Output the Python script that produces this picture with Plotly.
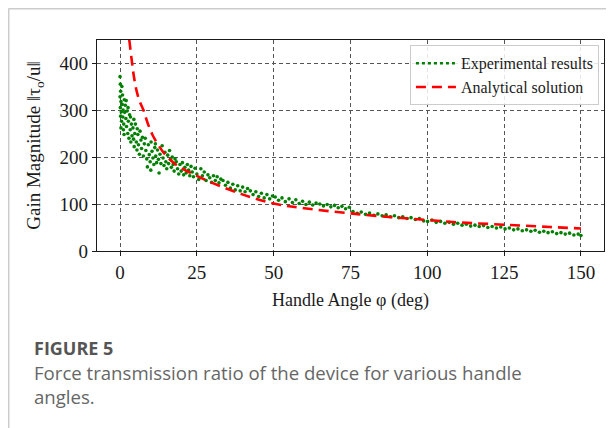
import plotly.graph_objects as go

# ---- Data ----
exp_x = [0.0, 0.1, 0.2, 0.0, 0.3, 0.1, 0.4, 0.2, 0.5, 0.3, 0.6, 0.8, 0.7, 1.0, 0.9, 1.2, 1.1, 1.4, 1.5, 1.3,
         1.7, 1.9, 2.1, 2.3, 2.5, 2.7, 2.9, 3.1, 3.3, 3.5, 3.7, 3.9, 2.0, 2.6, 3.4,
         4.2, 4.4, 4.6, 4.8, 5.0, 5.3, 5.5, 5.8, 6.0, 6.3, 6.5, 6.8, 7.0, 7.3, 7.6, 7.9, 4.5, 5.6,
         8.2, 8.4, 8.7, 8.9, 9.2, 9.5, 9.8, 10.1, 10.4, 10.7, 11.0, 11.3, 11.6, 11.9, 12.2, 12.5, 12.7, 13.0, 13.3, 10.0, 11.5,
         13.7, 14.0, 14.3, 14.6, 14.9, 15.2, 15.5, 15.8, 16.1, 16.4, 16.7, 17.0, 17.3, 17.6, 17.9,
         18.3, 18.7, 19.1, 19.5, 19.9, 20.3, 20.7, 21.1, 21.5, 21.9, 22.3, 22.7, 23.1, 23.5, 23.9,
         24.4, 25.0, 25.6, 26.3, 26.8, 27.4, 28.0, 28.6, 29.2, 29.8, 30.4, 31.0, 31.6, 32.2, 32.8,
         33.5, 34.3, 35.1, 35.9, 36.7, 37.5, 38.3, 39.1, 39.9, 40.7, 41.5,
         42.4, 43.3, 44.2, 45.1, 46.0, 46.9, 47.8, 48.7, 49.6,
         50.5, 51.6, 52.7, 53.8, 55.0, 56.1, 57.2, 58.3, 59.4, 60.5, 61.6, 62.7, 63.8,
         65.0, 66.2, 67.4, 68.6, 69.8, 71.0, 72.2, 73.4, 74.6,
         75.8, 77.2, 78.5, 79.9, 81.2, 82.6, 83.9, 85.3, 86.6, 88.0, 89.3, 90.7, 92.0, 93.4, 94.7, 96.1, 97.4, 98.8, 100.1,
         101.5, 102.9, 104.3, 105.7, 107.1, 108.5, 109.9, 111.3, 112.7, 114.1, 115.5, 116.9, 118.3, 119.7, 121.1, 122.5, 123.9,
         125.3, 126.7, 128.1, 129.5, 130.9, 132.3, 133.7, 135.1, 136.5, 137.9, 139.3, 140.7, 142.1, 143.5, 144.9, 146.3, 147.7, 149.1, 150.0]
exp_y = [371, 355, 340, 328, 318, 305, 296, 287, 276, 262, 350, 332, 312, 300, 285, 270, 258, 322, 295, 248,
         310, 282, 265, 298, 250, 276, 240, 290, 258, 232, 270, 245, 320, 305, 285,
         262, 238, 222, 250, 270, 232, 215, 248, 226, 206, 255, 236, 218, 242, 202, 228, 280, 260,
         240, 214, 196, 179, 226, 205, 190, 232, 212, 198, 184, 220, 202, 188, 215, 195, 166, 206, 186, 172, 228,
         224, 198, 182, 210, 190, 175, 204, 186, 214, 195, 178, 200, 184, 170, 196,
         190, 175, 164, 184, 170, 188, 162, 178, 166, 184, 172, 160, 180, 168, 158,
         176, 164, 152, 175, 160, 168, 150, 162, 156, 146, 160, 150, 158, 145, 153,
         150, 140, 146, 134, 142, 130, 139, 128, 136, 126, 133,
         128, 120, 126, 116, 123, 113, 120, 111, 117,
         115, 108, 113, 105, 111, 103, 109, 101, 106, 99, 104, 98, 102,
         100, 96, 99, 94, 97, 92, 95, 90, 93,
         84, 80, 83, 78, 81, 76, 79, 75, 77, 73, 75, 71, 73, 69, 71, 67, 69, 64, 63,
         66, 61, 63, 59, 61, 57, 59, 55, 57, 53, 55, 52, 54, 50, 52, 49, 51,
         47, 49, 45, 47, 43, 45, 42, 44, 40, 42, 39, 41, 37, 39, 36, 38, 34, 36, 33]

ana_x = [3.0, 3.8, 4.5, 5.3, 6.3, 7.6, 9.0, 10.5, 12.5, 15.0, 19.0, 25.0, 30.0, 40.0, 50.0,
         60.0, 75.0, 90.0, 100.0, 110.0, 125.0, 140.0, 150.0]
ana_y = [450, 406, 372, 343, 320, 300, 272, 248, 225, 203, 180, 160, 145, 120, 101,
         91, 80, 71, 66, 61, 56, 51, 48]

x_ticks = [0, 25, 50, 75, 100, 125, 150]
y_ticks = [0, 100, 200, 300, 400]

SERIF = "Liberation Serif"
INK = "#1a1a1a"

fig = go.Figure()
fig.add_trace(go.Scatter(x=exp_x, y=exp_y, mode="markers",
                         marker=dict(color="#008000", size=3.6, line=dict(width=0)),
                         showlegend=False, hoverinfo="skip"))
fig.add_trace(go.Scatter(x=ana_x, y=ana_y, mode="lines", line_shape="spline",
                         line=dict(color="#ff0000", width=2.6, dash="10px,6px"),
                         showlegend=False))
# legend samples
fig.add_trace(go.Scatter(x=[None], y=[None], mode="lines", name="Experimental results",
                         line=dict(color="#008000", width=2.6, dash="dot")))
fig.add_trace(go.Scatter(x=[None], y=[None], mode="lines", name="Analytical solution",
                         line=dict(color="#ff0000", width=2.6, dash="10px,6px")))

axis_common = dict(showline=True, linecolor=INK, linewidth=1.2, mirror=True,
                   ticks="outside", ticklen=4, tickcolor=INK, automargin=False,
                   showgrid=True, gridcolor="#555", griddash="4px,3px", gridwidth=1,
                   zeroline=False, tickfont=dict(family=SERIF, size=19, color=INK))

fig.update_xaxes(range=[-7.5, 157.5], tickvals=x_ticks,
                 title=dict(text="Handle Angle φ (deg)", font=dict(family=SERIF, size=18, color=INK),
                            standoff=11),
                 **axis_common)
fig.update_yaxes(range=[0, 449], tickvals=y_ticks,
                 title=dict(text="Gain Magnitude ‖τ<sub>o</sub>/u‖", font=dict(family=SERIF, size=19, color=INK),
                            standoff=13),
                 **axis_common)

fig.update_layout(
    width=614, height=428,
    margin=dict(l=89, r=18, t=32, b=185),
    plot_bgcolor="white", paper_bgcolor="white",
    legend=dict(x=0.99, y=0.975, xanchor="right", yanchor="top",
                bgcolor="rgba(255,255,255,0.85)", bordercolor="#cccccc", borderwidth=1,
                font=dict(family=SERIF, size=16, color=INK), itemwidth=40,
                tracegroupgap=2),
    shapes=[
        dict(type="line", xref="paper", yref="paper", x0=-0.1746, x1=1.05, y0=1.149, y1=1.149,
             line=dict(color="#cccccc", width=2)),
        dict(type="line", xref="paper", yref="paper", x0=-0.1746, x1=-0.1746, y0=1.149, y1=-0.9,
             line=dict(color="#cccccc", width=2)),
    ],
    annotations=[
        dict(text="<b>FIGURE 5</b>", xref="paper", yref="paper", x=-0.128, y=-0.460,
             xanchor="left", yanchor="middle", showarrow=False,
             font=dict(family="Open Sans", size=18, color="#555")),
        dict(text="Force transmission ratio of the device for various handle<br>angles.",
             xref="paper", yref="paper", x=-0.128, y=-0.505, xanchor="left", yanchor="top",
             align="left", showarrow=False,
             font=dict(family="Open Sans", size=18.6, color="#666")),
    ],
)

fig.write_html("out.html")
